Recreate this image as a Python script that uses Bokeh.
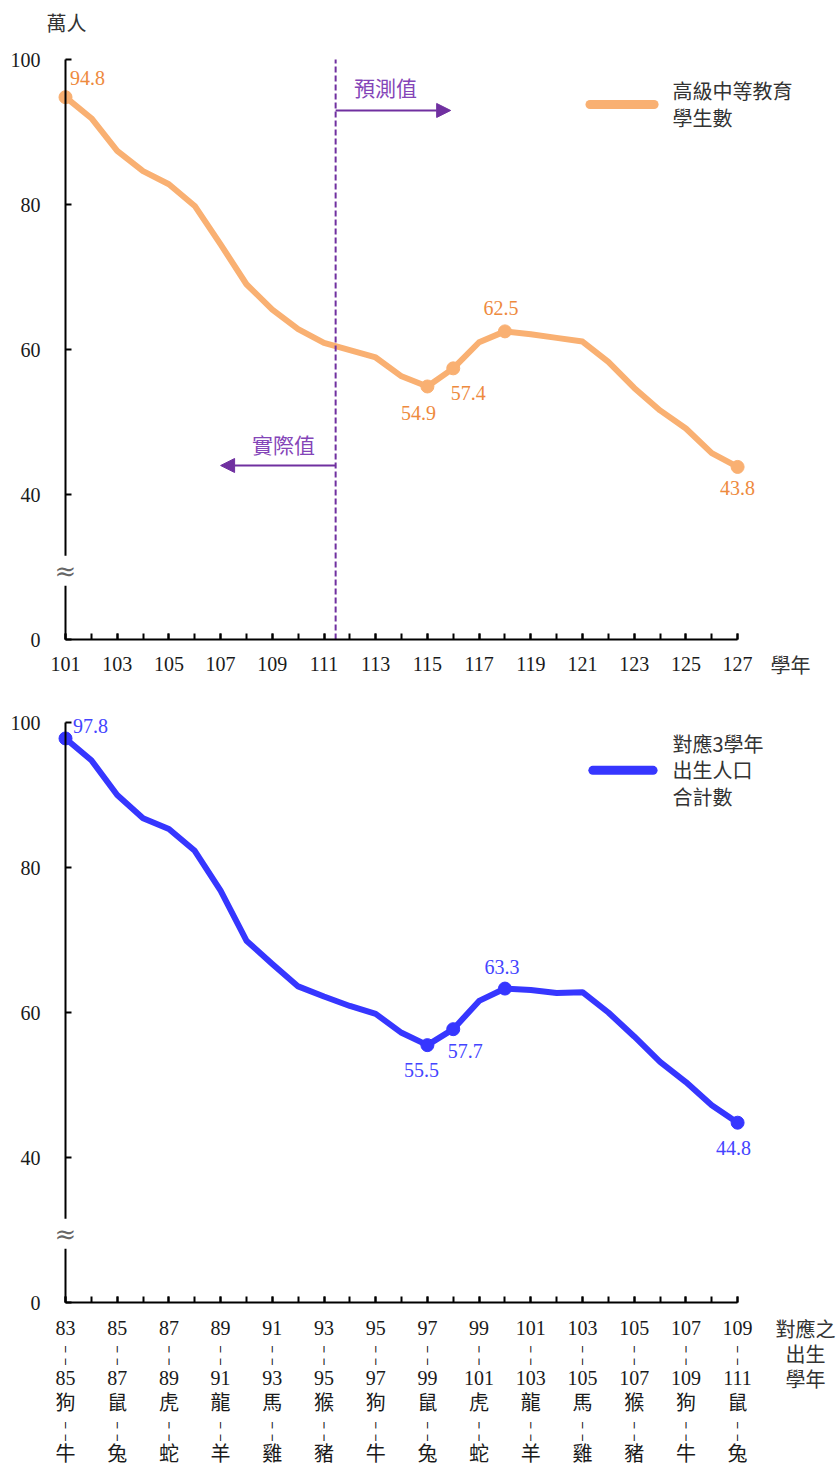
from bokeh.plotting import figure
from bokeh.layouts import column
from bokeh.models import FixedTicker, Label, Arrow, NormalHead, Range1d, ColumnDataSource
from bokeh.core.properties import value
from bokeh.embed import file_html
from bokeh.resources import INLINE

# ---------------- data ----------------
top_years = list(range(101, 128))
students = [94.8, 91.9, 87.4, 84.6, 82.8, 79.8, 74.5, 69.0, 65.5, 62.8, 60.9, 59.9, 58.9, 56.3,
            54.9, 57.4, 61.0, 62.5, 62.1, 61.6, 61.1, 58.3, 54.7, 51.6, 49.1, 45.7, 43.8]
top_marked_years = [101, 115, 116, 118, 127]

birth_years = list(range(83, 110))
births = [97.8, 94.8, 90.0, 86.8, 85.3, 82.3, 76.8, 69.9, 66.7, 63.6, 62.2, 60.9, 59.8, 57.2,
          55.5, 57.7, 61.6, 63.3, 63.1, 62.7, 62.8, 60.0, 56.7, 53.2, 50.4, 47.2, 44.8]
bottom_marked_years = [83, 97, 98, 100, 109]

y_ticks = [0, 40, 60, 80, 100]
zodiac_first = ["狗", "鼠", "虎", "龍", "馬", "猴", "狗", "鼠", "虎", "龍", "馬", "猴", "狗", "鼠"]
zodiac_second = ["牛", "兔", "蛇", "羊", "雞", "豬", "牛", "兔", "蛇", "羊", "雞", "豬", "牛", "兔"]

y_unit = "萬人"
top_x_title = "學年"
bottom_x_title = "對應之\n出生\n學年"
top_legend = "高級中等教育\n學生數"
bottom_legend = "對應3學年\n出生人口\n合計數"
forecast_label = "預測值"
actual_label = "實際值"
forecast_split = 111.45

# ---------------- styles ----------------
ORANGE = "#F9B072"
ORANGE_TXT = "#EE8A3E"
BLUE = "#3636FF"
BLUE_TXT = "#4444FF"
PURPLE = "#7030A0"
PURPLE_TXT = "#8445B8"
SERIF = "'Liberation Serif', 'Noto Sans CJK TC', serif"
AXIS_FONT = "'Liberation Serif', 'Noto Sans CJK TC', serif"
CJK = "'Noto Sans CJK TC', 'Liberation Serif', sans-serif"
PX = 25.85   # px per year
PY = 7.25    # px per value unit
W = 838
AXIS_X_PX = 65      # pixel column of the y axis


def disp(v):
    # axis break: values >= 40 are linear, 0 is drawn at 20
    return v if v >= 40 else 20 + v * 0.5


def make_fig(x0, height, axis_y_px, x_standoff):
    x_start = x0 - AXIS_X_PX / PX
    y_end = 20 + axis_y_px / PY
    y_start = 20 - (height - axis_y_px) / PY
    p = figure(width=W, height=height,
               x_range=Range1d(x_start, x_start + W / PX),
               y_range=Range1d(y_start, y_end),
               output_backend="svg", toolbar_location=None, title=None,
               min_border=0)
    p.xgrid.visible = False
    p.ygrid.visible = False
    p.outline_line_color = None
    p.background_fill_color = "white"
    p.border_fill_color = "white"

    ax = p.xaxis[0]
    ax.fixed_location = 20
    ax.bounds = (x0, x0 + 26)
    ax.ticker = FixedTicker(ticks=list(range(x0, x0 + 27, 2)), minor_ticks=list(range(x0, x0 + 27)))
    ax.major_tick_in = 6
    ax.major_tick_out = 0
    ax.minor_tick_in = 6
    ax.minor_tick_out = 0
    ax.axis_line_width = 2
    ax.major_tick_line_width = 2
    ax.minor_tick_line_width = 2
    ax.axis_line_color = "black"
    ax.major_tick_line_color = "black"
    ax.minor_tick_line_color = "black"
    ax.major_label_text_font = AXIS_FONT
    ax.major_label_text_font_size = "20px"
    ax.major_label_text_color = "#1a1a1a"
    ax.major_label_standoff = x_standoff

    ay = p.yaxis[0]
    ay.fixed_location = x0
    ay.bounds = (20, 100)
    ay.ticker = FixedTicker(ticks=[disp(t) for t in y_ticks], minor_ticks=[])
    ay.major_label_overrides = {disp(t): str(t) for t in y_ticks}
    ay.major_tick_in = 6
    ay.major_tick_out = 0
    ay.minor_tick_line_color = None
    ay.axis_line_width = 2
    ay.major_tick_line_width = 2
    ay.axis_line_color = "black"
    ay.major_tick_line_color = "black"
    ay.major_label_text_font = AXIS_FONT
    ay.major_label_text_font_size = "20px"
    ay.major_label_text_color = "#1a1a1a"
    ay.major_label_standoff = 25

    brk = Label(x=x0, y=29.5, text="≈", text_align="center", text_baseline="middle",
                text_font="DejaVu Serif", text_font_size="26px", text_color="#666666",
                background_fill_color="white")
    p.add_layout(brk)
    return p


def add_series(p, xs, ys, marked, offsets, color, txt_color, width):
    p.line(xs, ys, line_color=color, line_width=width, line_join="round")
    mx = [x for x in marked]
    my = [ys[xs.index(x)] for x in marked]
    p.scatter(mx, my, size=13, color=color)
    src = ColumnDataSource(dict(x=mx, y=my, t=[f"{v:.1f}" for v in my],
                                dx=[o[0] for o in offsets], dy=[o[1] for o in offsets]))
    p.text(x="x", y="y", text="t", x_offset="dx", y_offset="dy", source=src,
           text_align="center", text_baseline="middle", text_color=txt_color,
           text_font=value(SERIF), text_font_size="20px")


# ---------------- top chart ----------------
p1 = make_fig(101, 692, 639, 17)
add_series(p1, top_years, students, top_marked_years,
           [(22, -19), (-9, 27), (15, 25), (-4, -23), (0, 21)], ORANGE, ORANGE_TXT, 6)

p1.segment(x0=[forecast_split], y0=[20], x1=[forecast_split], y1=[100],
           line_color=PURPLE, line_width=2, line_dash="6 3")
p1.add_layout(Arrow(end=NormalHead(size=14, fill_color=PURPLE, line_color=PURPLE),
                    x_start=forecast_split, y_start=92.97, x_end=forecast_split + 4.45, y_end=92.97,
                    line_color=PURPLE, line_width=2))
p1.add_layout(Arrow(end=NormalHead(size=14, fill_color=PURPLE, line_color=PURPLE),
                    x_start=forecast_split, y_start=44.0, x_end=forecast_split - 4.45, y_end=44.0,
                    line_color=PURPLE, line_width=2))
p1.text(x=[113.38], y=[96.2], text=[forecast_label], text_align="center", text_baseline="middle",
        text_color=PURPLE_TXT, text_font=value(CJK), text_font_size="21px")
p1.text(x=[109.43], y=[47.0], text=[actual_label], text_align="center", text_baseline="middle",
        text_color=PURPLE_TXT, text_font=value(CJK), text_font_size="21px")

p1.text(x=[101.04], y=[105.1], text=[y_unit], text_align="center", text_baseline="middle",
        text_color="#333333", text_font=value(CJK), text_font_size="20px")

p1.line([121.29, 123.77], [93.8, 93.8], line_color=ORANGE, line_width=9, line_cap="round")
p1.text(x=[124.48], y=[93.9], text=[top_legend], text_align="left", text_baseline="middle",
        text_color="#333333", text_font=value(CJK), text_font_size="20px", text_line_height=0.93)

p1.text(x=[129.05], y=[16.55], text=[top_x_title], text_align="center", text_baseline="middle",
        text_color="#333333", text_font=value(CJK), text_font_size="20px")

# ---------------- bottom chart ----------------
p2 = make_fig(83, 773, 610, 14)
add_series(p2, birth_years, births, bottom_marked_years,
           [(25, -12), (-6, 25), (12, 22), (-3, -22), (-4, 25)], BLUE, BLUE_TXT, 6)

odd_years = list(range(83, 110, 2))
p2.xaxis[0].major_label_overrides = {
    y: f"{y}\n¦\n{y + 2}\n{a}\n¦\n{b}" for y, a, b in zip(odd_years, zodiac_first, zodiac_second)
}
p2.xaxis[0].major_label_text_line_height = 1.15

p2.line([103.40, 105.73], [93.4, 93.4], line_color=BLUE, line_width=9, line_cap="round")
p2.text(x=[106.48], y=[93.45], text=[bottom_legend], text_align="left", text_baseline="middle",
        text_color="#333333", text_font=value(CJK), text_font_size="20px", text_line_height=0.93)

p2.text(x=[111.63], y=[12.92], text=[bottom_x_title], text_align="center", text_baseline="middle",
        text_color="#333333", text_font=value(CJK), text_font_size="20px", text_line_height=0.86)

layout = column(p1, p2, spacing=0)
open("out.html", "w").write(file_html(layout, INLINE))
